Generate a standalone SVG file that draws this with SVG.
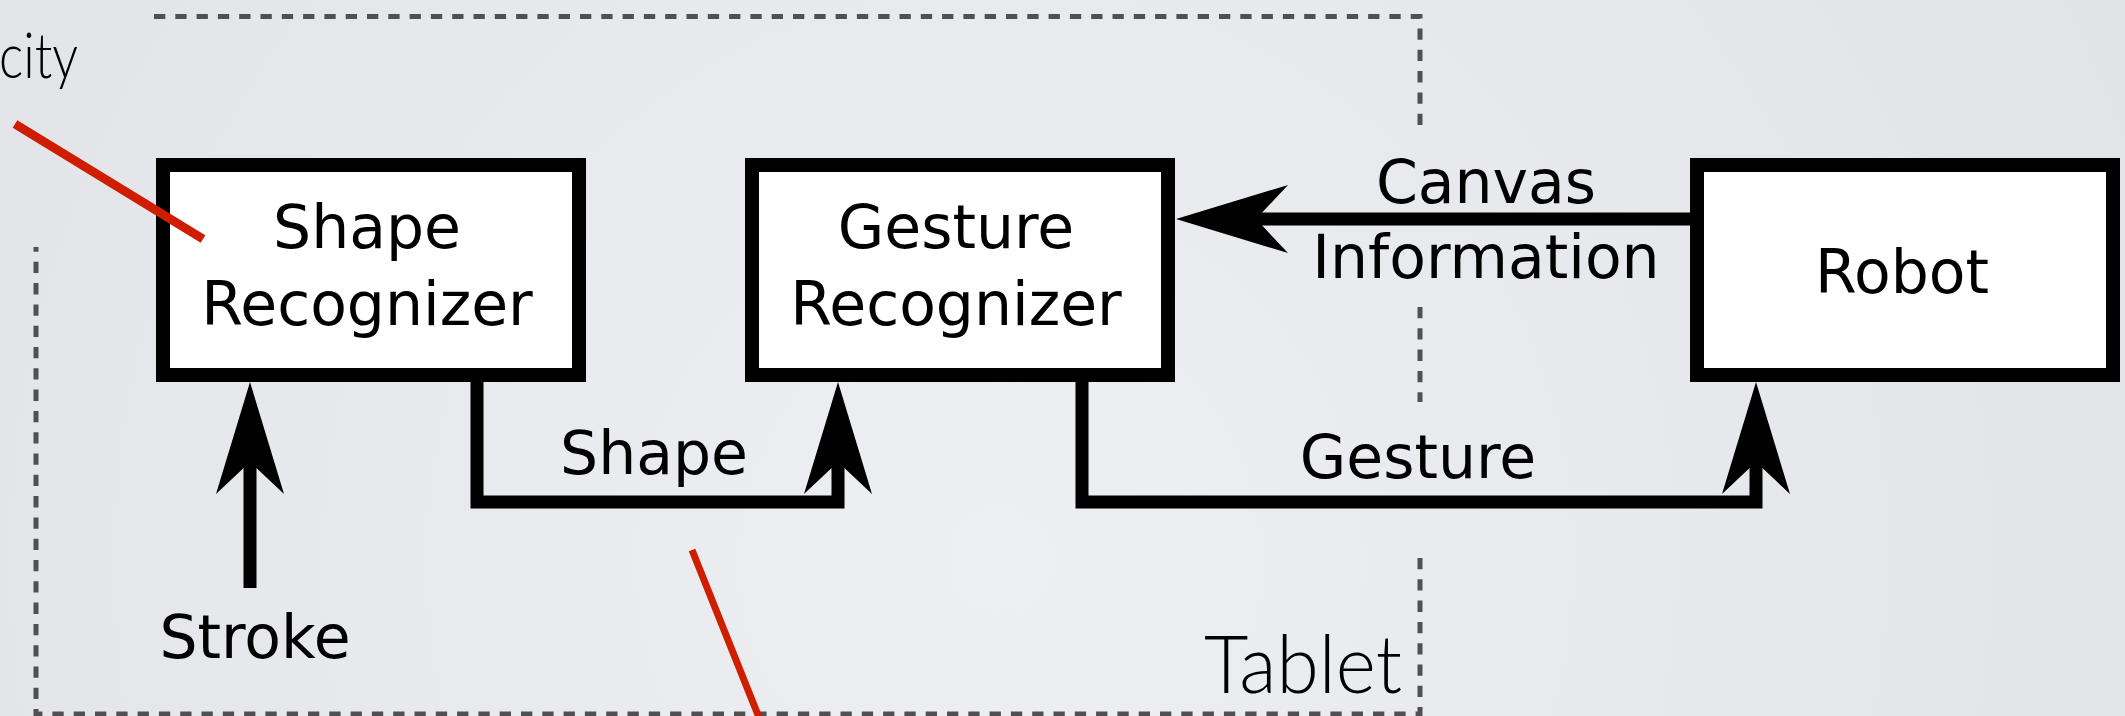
<svg xmlns="http://www.w3.org/2000/svg" width="2125" height="716" viewBox="0 0 2125 716">
  <defs>
    <radialGradient id="bg" cx="1000" cy="560" r="1250" gradientUnits="userSpaceOnUse">
      <stop offset="0" stop-color="#eeeff2"/>
      <stop offset="1" stop-color="#e2e3e7"/>
    </radialGradient>
    <!-- arrowhead: origin sits at the notch, tip points along +x -->
    <marker id="head" markerUnits="userSpaceOnUse" orient="auto" overflow="visible"
            markerWidth="1" markerHeight="1" refX="0" refY="0">
      <path d="M80,0 L-32,-34 L0,0 L-32,34 Z" fill="#000"/>
    </marker>
    <style>
      .box { fill: #fff; stroke: #000; stroke-width: 14; }
      .label { font-family: "DejaVu Sans", sans-serif; font-size: 60px; fill: #000; text-anchor: middle; }
      .wire { fill: none; stroke: #000; stroke-width: 13; stroke-linejoin: miter; stroke-linecap: butt; }
      .frame { fill: none; stroke: #505052; stroke-width: 5; stroke-dasharray: 11.3 10; }
      .thin { font-family: "Lato", "Open Sans", sans-serif; font-weight: 300; fill: #000; }
      .mark { stroke: #cf1d00; stroke-linecap: butt; }
    </style>
  </defs>

  <rect width="2125" height="716" fill="url(#bg)"/>

  <!-- tablet boundary -->
  <g id="tablet-frame">
    <path class="frame" d="M154,16.5 H1420 V132"/>
    <path class="frame" d="M1420,307 V402"/>
    <path class="frame" d="M1420,558 V714 H36 V247"/>
    <text class="thin" x="1402" y="693" font-size="80" text-anchor="end" textLength="198" lengthAdjust="spacingAndGlyphs">Tablet</text>
  </g>

  <text class="thin" x="-1" y="78" font-size="64" textLength="79" lengthAdjust="spacingAndGlyphs">city</text>

  <!-- connectors -->
  <g id="connectors">
    <path class="wire" d="M250,588 V462" marker-end="url(#head)"/>
    <path class="wire" d="M477,382 V502 H838 V462" marker-end="url(#head)"/>
    <path class="wire" d="M1082,382 V502 H1756 V462" marker-end="url(#head)"/>
    <path class="wire" d="M1690,219 H1256" marker-end="url(#head)"/>
    <text class="label" x="255" y="658">Stroke</text>
    <text class="label" x="654" y="474">Shape</text>
    <text class="label" x="1418" y="478">Gesture</text>
    <text class="label" x="1486" y="203">Canvas</text>
    <text class="label" x="1486" y="278">Information</text>
  </g>

  <g id="shape-recognizer">
    <rect class="box" x="163" y="165" width="416" height="210"/>
    <text class="label" x="367" y="248">Shape</text>
    <text class="label" x="367" y="325">Recognizer</text>
  </g>

  <g id="gesture-recognizer">
    <rect class="box" x="752" y="165" width="416" height="210"/>
    <text class="label" x="956" y="248">Gesture</text>
    <text class="label" x="956" y="325">Recognizer</text>
  </g>

  <g id="robot">
    <rect class="box" x="1697" y="165" width="416" height="210"/>
    <text class="label" x="1902" y="293">Robot</text>
  </g>

  <!-- red pointer strokes -->
  <line class="mark" x1="15" y1="124" x2="203" y2="239" stroke-width="9"/>
  <line class="mark" x1="692" y1="550" x2="760" y2="720" stroke-width="7"/>
</svg>
